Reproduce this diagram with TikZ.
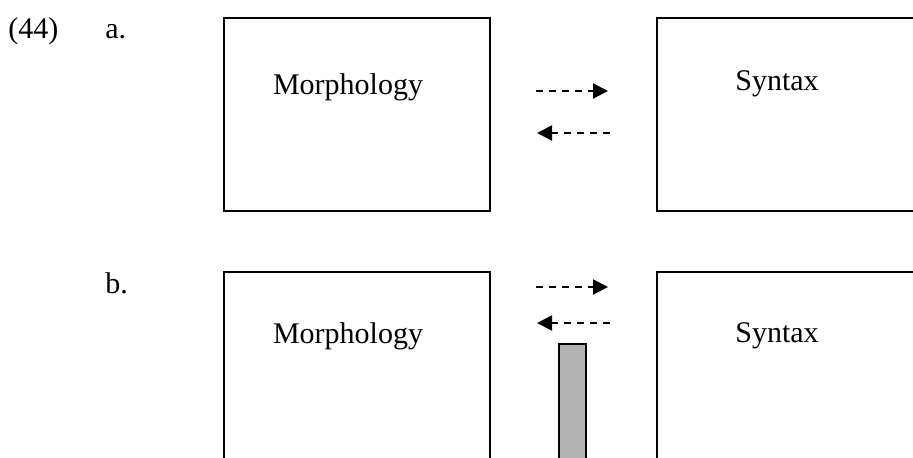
\documentclass[tikz,border=0pt]{standalone}
\usepackage{fontspec}
\setmainfont{Liberation Serif}
\usetikzlibrary{arrows.meta}

\begin{document}
\begin{tikzpicture}[x=0.5pt,y=-0.5pt,
    module/.style={draw,line width=1pt,inner sep=0pt,minimum width=133pt,minimum height=96.5pt},
    link/.style={line width=1pt,dash pattern=on 3.5pt off 3pt,-{Triangle[length=7.5pt,width=7.5pt]}},
    lbl/.style={anchor=base west,inner sep=0pt,font=\fontsize{15pt}{18pt}\selectfont},
    modname/.style={anchor=base,inner sep=0pt,font=\fontsize{15pt}{18pt}\selectfont}]
    \clip (0,0) rectangle (913,457);
    % example numbers
    \node[lbl] (ex) at (8,38) {(44)};
    \node[lbl] (la) at (105,38) {a.};
    \node[lbl] (lb) at (105,293) {b.};
    % (a)
    \node[module] (ma) at (356.5,114.5) {};
    \node[module] (sa) at (790,114.5) {};
    \node[modname] (morph-a) at (348,94) {Morphology};
    \node[modname] (syn-a) at (777,90) {Syntax};
    \coordinate (a1) at (536,91);
    \coordinate (a2) at (608,91);
    \coordinate (a3) at (610,133);
    \coordinate (a4) at (537,133);
    \draw[link] (a1) -- (a2);
    \draw[link] (a3) -- (a4);
    % (b)
    \node[module] (mb) at (356.5,368.5) {};
    \node[module] (sb) at (790,368.5) {};
    \node[modname] (morph-b) at (348,343) {Morphology};
    \node[modname] (syn-b) at (777,342) {Syntax};
    \coordinate (b1) at (536,287);
    \coordinate (b2) at (608,287);
    \coordinate (b3) at (610,323);
    \coordinate (b4) at (537,323);
    \draw[link] (b1) -- (b2);
    \draw[link] (b3) -- (b4);
    % the wall between them
    \node[draw,line width=0.8pt,fill=gray!60,inner sep=0pt,minimum width=13.5pt,minimum height=63pt] (wall) at (572.5,407) {};
\end{tikzpicture}
\end{document}
